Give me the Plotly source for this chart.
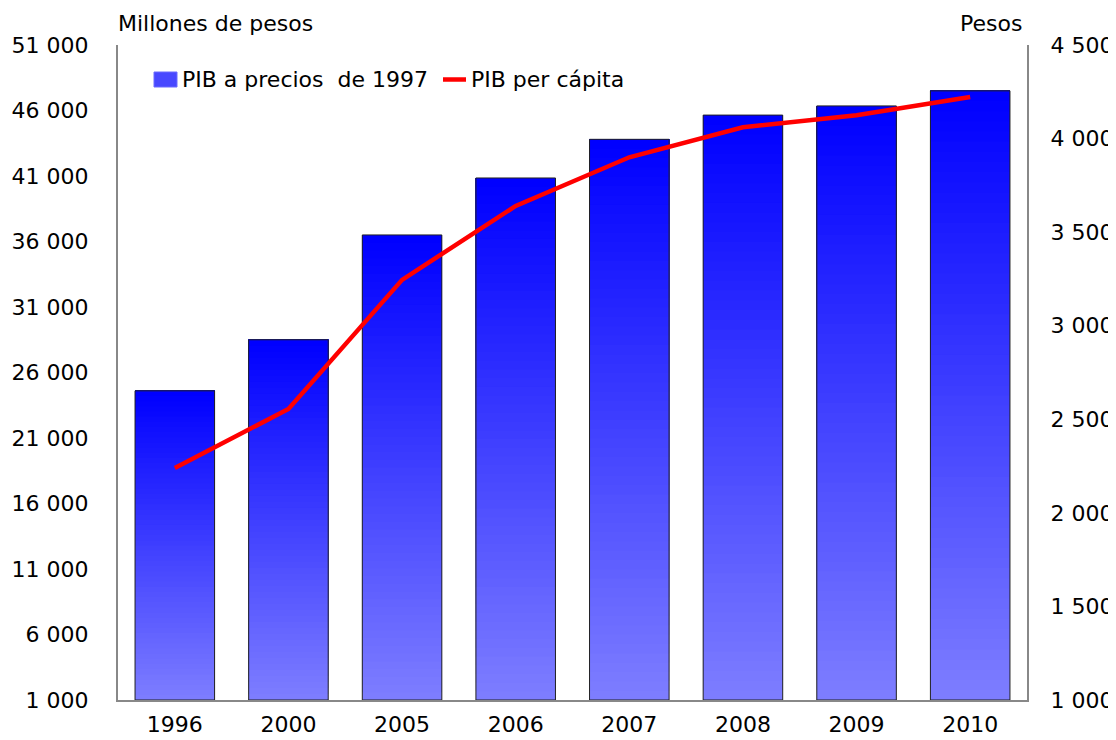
import plotly.graph_objects as go

years = ["1996", "2000", "2005", "2006", "2007", "2008", "2009", "2010"]
pib_millones = [24600, 28500, 36500, 40850, 43800, 45650, 46350, 47500]
pib_per_capita = [2240, 2555, 3245, 3640, 3900, 4060, 4125, 4222]

left_ticks = list(range(1000, 51001, 5000))
right_ticks = list(range(1000, 4501, 500))

bar_label = "PIB a precios  de 1997"
line_label = "PIB per cápita"


def fmt(v):
    return f"{v:,}".replace(",", " ")


FONT = "DejaVu Sans, sans-serif"
FS = 22
OFF = 8  # page body margin offset
W, H = 1116 - OFF, 740 - OFF
ML, MR, MT, MB = 110, 89, 37, 40
PW, PH = W - ML - MR, H - MT - MB


def px(x):
    return (x - OFF - ML) / PW


def py(y):
    return (H - MB - (y - OFF)) / PH


base_val = 1000
N = 60
top_rgb = (0, 0, 255)
bot_rgb = (125, 125, 255)

fig = go.Figure()

# gradient bars: stacked layers, each from a fraction of the bar up to its top
for k in range(N):
    t = k / (N - 1)
    c = tuple(round(bot_rgb[j] + (top_rgb[j] - bot_rgb[j]) * t) for j in range(3))
    bases = [base_val + (v - base_val) * k / N for v in pib_millones]
    heights = [v - b for v, b in zip(pib_millones, bases)]
    fig.add_trace(go.Bar(
        x=years, y=heights, base=bases,
        marker=dict(color=f"rgb{c}", line=dict(width=0)),
        showlegend=False, hoverinfo="skip", yaxis="y",
    ))

# outline of bars
fig.add_trace(go.Bar(
    x=years, y=[v - base_val for v in pib_millones], base=[base_val] * len(years),
    name=bar_label,
    marker=dict(color="rgba(0,0,0,0)", line=dict(color="#222222", width=1)),
    showlegend=False, yaxis="y",
))

fig.add_trace(go.Scatter(
    x=years, y=pib_per_capita, name=line_label, mode="lines",
    line=dict(color="#ff0000", width=4.5), yaxis="y2", showlegend=False,
))

shapes = [
    # legend swatches
    dict(type="rect", xref="paper", yref="paper",
         x0=px(154), x1=px(177), y0=py(87), y1=py(72),
         fillcolor="#4848ff", line=dict(color="#6a6aff", width=1)),
    dict(type="line", xref="paper", yref="paper",
         x0=px(443), x1=px(466), y0=py(79.5), y1=py(79.5),
         line=dict(color="#ff0000", width=4.5)),
]

annotations = [
    dict(text="Millones de pesos", xref="paper", yref="paper", x=px(116), y=py(23),
         xanchor="left", yanchor="middle", showarrow=False),
    dict(text="Pesos", xref="paper", yref="paper", x=px(1024), y=py(23),
         xanchor="right", yanchor="middle", showarrow=False),
    dict(text=bar_label, xref="paper", yref="paper", x=px(180), y=py(80),
         xanchor="left", yanchor="middle", showarrow=False),
    dict(text=line_label, xref="paper", yref="paper", x=px(469), y=py(80),
         xanchor="left", yanchor="middle", showarrow=False),
]

fig.update_layout(
    width=W, height=H,
    margin=dict(l=ML, r=MR, t=MT, b=MB, autoexpand=False),
    paper_bgcolor="white", plot_bgcolor="white",
    barmode="overlay", bargap=0.3,
    font=dict(family=FONT, size=FS, color="black"),
    showlegend=False,
    xaxis=dict(showline=True, linecolor="#888888", linewidth=2,
               ticks="outside", ticklen=4, tickcolor="rgba(0,0,0,0)",
               showgrid=False, type="category", automargin=False),
    yaxis=dict(range=[1000, 51000], tickvals=left_ticks,
               ticktext=[fmt(v) for v in left_ticks], showline=True,
               linecolor="#888888", linewidth=2, showgrid=False, zeroline=False,
               ticks="outside", ticklen=23, tickcolor="rgba(0,0,0,0)",
               automargin=False),
    yaxis2=dict(range=[1000, 4500], tickvals=right_ticks,
                ticktext=[fmt(v) for v in right_ticks], overlaying="y", side="right",
                showline=True, linecolor="#888888", linewidth=2, showgrid=False,
                zeroline=False, ticks="outside", ticklen=17,
                tickcolor="rgba(0,0,0,0)", automargin=False),
    shapes=shapes,
    annotations=annotations,
)

fig.write_html("out.html")
